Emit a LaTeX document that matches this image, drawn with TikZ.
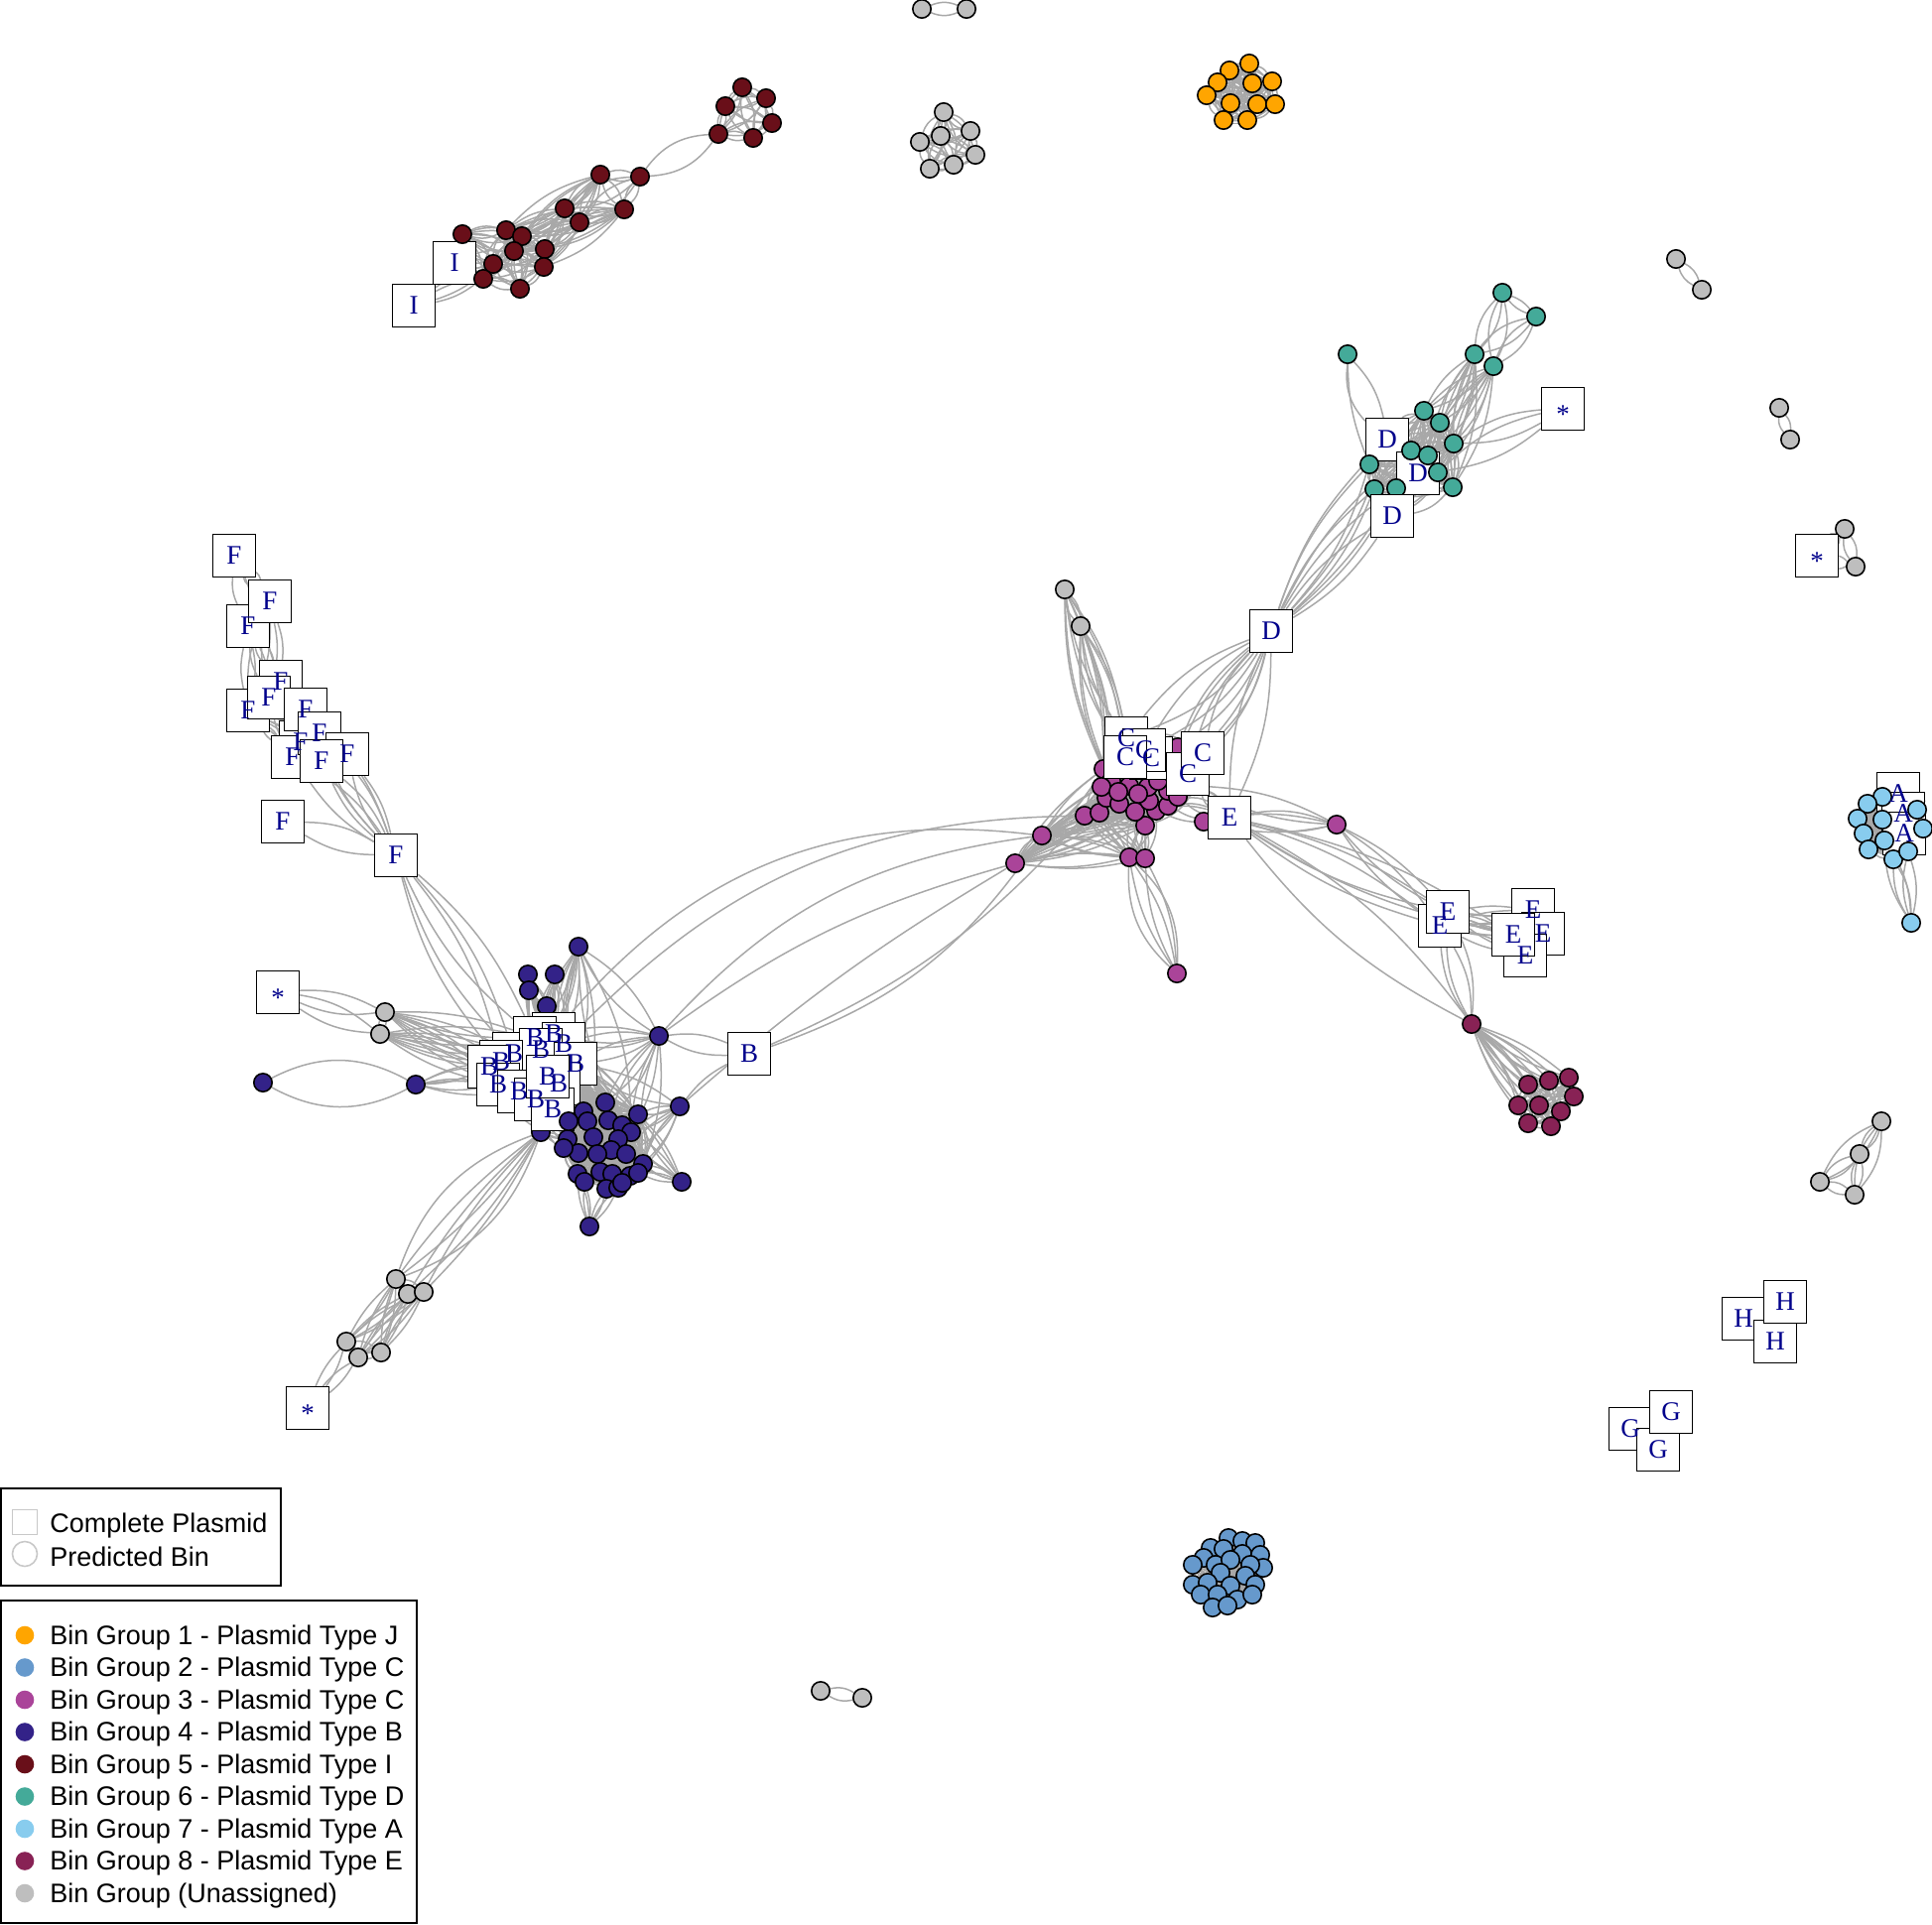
\documentclass[tikz,border=0pt]{standalone}
\usepackage{fontspec}
\setmainfont{Liberation Serif}
\newfontfamily\legfont{Liberation Sans}
\pgfdeclarelayer{edges}
\pgfsetlayers{edges,main}
\definecolor{cA}{RGB}{255,165,0}
\definecolor{cB}{RGB}{102,153,204}
\definecolor{cC}{RGB}{170,68,153}
\definecolor{cD}{RGB}{51,34,136}
\definecolor{cE}{RGB}{105,15,25}
\definecolor{cF}{RGB}{68,170,153}
\definecolor{cG}{RGB}{136,204,238}
\definecolor{cH}{RGB}{136,34,85}
\definecolor{cU}{RGB}{190,190,190}
\definecolor{edgec}{RGB}{168,168,168}
\definecolor{labc}{RGB}{0,0,139}
\newcommand\mkclique[2]{\foreach \a [count=\i] in {#1}{\foreach \b [count=\j] in {#1}{\ifnum\i<\j\relax \draw[ed] (\a) to[bend left=#2] (\b);\fi}}}
\newcommand\mkcliqueb[2]{\foreach \a [count=\i] in {#1}{\foreach \b [count=\j] in {#1}{\ifnum\i<\j\relax \draw[ed] (\a) to[bend left=#2] (\b); \draw[ed] (\a) to[bend right=#2] (\b);\fi}}}
\newcommand\mkfan[3]{\foreach \a in {#1}{\foreach \b in {#2}{\draw[ed] (\a) to[bend left=#3] (\b); \draw[ed] (\a) to[bend right=#3] (\b);}}}
\newcommand\mkbundle[3]{\foreach \k in {#3}{\draw[ed] (#1) to[bend left=\k] (#2);}}
\tikzset{
  bn/.style={circle, draw=black, line width=0.8pt, minimum size=9.2pt, inner sep=0pt},
  g1/.style={bn, fill=cA}, g2/.style={bn, fill=cB}, g3/.style={bn, fill=cC},
  g4/.style={bn, fill=cD}, g5/.style={bn, fill=cE}, g6/.style={bn, fill=cF},
  g7/.style={bn, fill=cG}, g8/.style={bn, fill=cH}, gu/.style={bn, fill=cU},
  sq/.style={draw=black, fill=white, line width=0.7pt, minimum size=21.5pt, inner sep=0pt},
  lab/.style={text=labc, font=\fontsize{13.5}{13.5}\selectfont, inner sep=0pt},
  ed/.style={draw=edgec, line width=0.75pt},
  legtxt/.style={anchor=west, inner sep=0pt, font=\legfont\fontsize{13.5}{16}\selectfont},
  legdot/.style={circle, minimum size=9.3pt, inner sep=0pt},
}
\begin{document}
\begin{tikzpicture}[x=0.5pt,y=-0.5pt]
\useasboundingbox (0,0) rectangle (1947,1939);
% ---------------- squares that lie under circles
\foreach \n/\x/\y in {I1/458/265, I2/417/308} \node[sq] (\n) at (\x,\y) {};
\foreach \n/\x/\y in {D1/1398/443, D2/1429/477} \node[sq] (\n) at (\x,\y) {};
\foreach \n/\x/\y in {A1/1913/800, A2/1918/820, A3/1919/840} \node[sq] (\n) at (\x,\y) {};
% ---------------- group 5 (maroon)
\foreach \n/\x/\y in {m1/748/88, m2/772/99, m3/731/107, m4/778/124, m5/724/135, m6/759/139,
  m7/605/176, m8/645/178, m9/629/211, m10/569/210, m11/584/224,
  m12/510/232, m13/466/236, m14/526/238, m15/518/253, m16/549/251, m17/497/266,
  m18/548/269, m19/487/281, m20/524/291}
  \node[g5] (\n) at (\x,\y) {};
% ---------------- group 1 (orange)
\foreach \n/\x/\y in {o1/1259/64, o2/1239/71, o3/1227/83, o4/1262/84, o5/1282/82, o6/1216/96,
  o7/1240/104, o8/1267/105, o9/1285/105, o10/1233/121, o11/1257/121}
  \node[g1] (\n) at (\x,\y) {};
% ---------------- unassigned grays
\foreach \n/\x/\y in {t1/929/9, t2/974/9, t3/951/113, t4/948/137, t5/978/132, t6/927/143,
  t7/983/156, t8/937/170, t9/961/166,
  r1/1689/261, r2/1715/292, r3/1793/411, r4/1804/443, r5/1859/533, r6/1870/571,
  r7/1896/1130, r8/1874/1163, r9/1834/1191, r10/1869/1204,
  y1/827/1704, y2/869/1711,
  u1/1073/594, u2/1089/631, u3/388/1020, u4/383/1042,
  u5/399/1289, u6/411/1304, u7/427/1302, u8/349/1352, u9/361/1368, u10/384/1363}
  \node[gu] (\n) at (\x,\y) {};
% ---------------- group 6 (green)
\foreach \n/\x/\y in {d1/1514/295, d2/1548/319, d3/1486/357, d4/1505/369, d5/1435/414,
  d6/1451/426, d7/1465/447, d8/1422/454, d9/1439/459, d10/1380/468, d11/1449/476,
  d12/1464/491, d13/1385/493, d14/1407/492, d15/1358/357}
  \node[g6] (\n) at (\x,\y) {};
\node[sq] (D3) at (1403,520) {};
\node[sq] (D4) at (1281,636) {};
\node[sq] (S3) at (1575,412) {};
% ---------------- group 7 (light blue)
\foreach \n/\x/\y in {a1/1897/803, a2/1882/810, a3/1872/825, a4/1897/826, a5/1932/816,
  a6/1938/835, a7/1878/840, a8/1899/847, a9/1883/856, a10/1908/866, a11/1923/858, a12/1926/930}
  \node[g7] (\n) at (\x,\y) {};
% ---------------- group 3 (purple)
\foreach \n/\x/\y in {p1/1112/775, p2/1187/753, p3/1206/792, p4/1213/828, p5/1093/822,
  p6/1108/819, p7/1050/842, p8/1023/870, p9/1138/864, p10/1154/865, p11/1186/981,
  p12/1154/832, p13/1115/804, p14/1128/810, p15/1144/818, p16/1165/817, p17/1177/812,
  p18/1177/797, p19/1158/807, p20/1138/792, p21/1120/787, p22/1110/793, p23/1157/793,
  p24/1167/787, p25/1127/798, p26/1147/800, p27/1187/803, p28/1182/780, p29/1347/831}
  \node[g3] (\n) at (\x,\y) {};
\foreach \n/\x/\y in {C1/1135/744, C3/1160/764, C2/1153/756, C6/1197/780, C4/1134/763,
  C5/1212/759, E1/1239/824}
  \node[sq] (\n) at (\x,\y) {};
% ---------------- group 8
\foreach \n/\x/\y in {h0/1483/1032, h1/1540/1093, h2/1561/1089, h3/1581/1086, h4/1586/1105,
  h5/1530/1114, h6/1551/1114, h7/1573/1120, h8/1540/1132, h9/1563/1135}
  \node[g8] (\n) at (\x,\y) {};
\foreach \n/\x/\y in {E2/1451/933, E3/1459/919, E4/1545/917, E5/1555/941, E7/1537/963, E6/1525/942}
  \node[sq] (\n) at (\x,\y) {};
% ---------------- group 2 (blue)
\foreach \n/\x [count=\k] in {1238/1550, 1252/1553, 1265/1555, 1220/1560, 1233/1561,
  1213/1570, 1252/1566, 1270/1567, 1202/1577, 1225/1577, 1240/1572, 1273/1580, 1260/1577,
  1230/1585, 1255/1588, 1202/1597, 1217/1595, 1240/1598, 1265/1597, 1210/1607, 1227/1607,
  1247/1612, 1262/1607, 1222/1620, 1237/1618}
  \node[g2] (v\k) at (\n,\x) {};
% ---------------- group 4 (indigo) outer
\foreach \n/\x/\y in {b1/265/1091, b2/419/1093, b3/583/954, b4/532/982, b5/559/982,
  b6/533/998, b7/551/1014, b8/664/1044, b9/685/1115, b10/687/1191, b11/594/1236,
  b12/545/1141}
  \node[g4] (\n) at (\x,\y) {};
\node[sq] (S1) at (280,1000) {};
\node[sq] (S2) at (310,1419) {};
\node[sq] (S4) at (1831,560) {};
\foreach \n/\x/\y in {B1/558/1042, B2/539/1046, B3/568/1052, B4/518/1062, B5/545/1058,
  B6/580/1072, B7/505/1070, B8/493/1075, B9/502/1093, B10/523/1100, B11/540/1108,
  B12/563/1092, B13/557/1118, B14/552/1085, B15/755/1062}
  \node[sq] (\n) at (\x,\y) {};
\foreach \n/\x/\y in {b13/610/1111, b14/643/1123, b15/588/1120, b16/592/1130, b17/613/1129,
  b18/627/1134, b19/636/1141, b20/572/1148, b21/598/1146, b22/623/1148, b23/583/1162,
  b24/616/1159, b25/631/1163, b26/602/1163, b27/648/1173, b28/582/1183, b29/589/1191,
  b30/605/1181, b31/617/1183, b32/635/1185, b33/643/1182, b34/611/1198, b35/623/1197,
  b36/627/1192, b37/573/1130, b38/568/1157}
  \node[g4] (\n) at (\x,\y) {};
% ---------------- F, H, G squares
\foreach \n/\x/\y in {F1/236/560, F3/250/631, F2/272/606, F4/283/687, F5/250/716, F6/271/703,
  F14/303/748, F8/295/763, F7/308/715, F9/322/739, F10/350/760, F11/324/767, F12/285/828,
  F13/399/862, H1/1757/1329, H3/1789/1352, H2/1799/1312, G1/1643/1440, G3/1671/1461, G2/1684/1423}
  \node[sq] (\n) at (\x,\y) {};
% ---------------- labels on top
\foreach \n/\t in {I1/I, I2/I, D1/D, D2/D, D3/D, D4/D, A1/A, A2/A, A3/A,
  C1/C, C3/C, C2/C, C6/C, C4/C, C5/C, E1/E, E2/E, E3/E, E4/E, E5/E, E7/E, E6/E,
  B1/B, B2/B, B3/B, B4/B, B5/B, B6/B, B7/B, B8/B, B9/B, B10/B, B11/B, B12/B, B13/B, B14/B, B15/B,
  F1/F, F3/F, F2/F, F4/F, F5/F, F6/F, F14/F, F8/F, F7/F, F9/F, F10/F, F11/F, F12/F, F13/F,
  H1/H, H3/H, H2/H, G1/G, G3/G, G2/G}
  \node[lab] (lab\n) at (\n) {\t};
\foreach \n in {S1,S2,S3,S4}
  \node[lab, yshift=-3pt] (lab\n) at (\n) {*};
% ---------------- edges
\begin{pgfonlayer}{edges}
% group 5
\mkcliqueb{m1,m2,m3,m4,m5,m6}{18}
\mkbundle{m5}{m8}{-25,25}
\mkcliqueb{m7,m8,m9,m10,m11}{20}
\mkfan{m10,m11,m7,m9}{m12,m14,m16,m18,m15}{15}
\mkcliqueb{m12,m13,m14,m15,m16,m17,m18,m19,m20}{20}
\mkfan{I1}{m13,m17,m19,m15}{12}
\mkfan{I2}{m19,m17}{12}
% group 1
\mkcliqueb{o1,o2,o3,o4,o5,o6,o7,o8,o9,o10,o11}{20}
% grays
\mkbundle{t1}{t2}{-22,22}
\mkcliqueb{t3,t4,t5,t6,t7,t8,t9}{20}
\mkbundle{r1}{r2}{-22,22}
\mkbundle{r3}{r4}{-22,22}
\mkfan{S4}{r5,r6}{15}
\mkbundle{r5}{r6}{-22,22}
\mkcliqueb{r7,r8,r9,r10}{20}
\mkbundle{y1}{y2}{-22,22}
% group 2
\mkclique{v1,v2,v3,v4,v5,v6,v7,v8,v9,v10,v11,v12,v13,v14,v15,v16,v17,v18,v19,v20,v21,v22,v23,v24,v25}{15}
% group 7
\mkcliqueb{a1,a2,a3,a4,a5,a6,a7,a8,a9,a10,a11,A1,A2,A3}{15}
\mkfan{a12}{a10,a11,a8}{15}
% group 6
\mkfan{d1,d2}{d3,d4}{20}
\mkcliqueb{d1,d2}{15}
\mkfan{d3,d4}{d5,d6,d7,d9,d11,d12}{14}
\mkcliqueb{d5,d6,d7,d8,d9,d10,d11,d12,d13,d14,D1,D2,D3}{18}
\mkbundle{d15}{D1}{-25,15}
\mkbundle{d15}{d10}{-10}
\mkfan{S3}{d7,d11}{15}
\mkfan{D4}{d10,d13,d14,D3,d8,D1}{12}
% D4 to purple and E
\mkfan{D4}{C1,C2,C5,p2,p28,C6}{15}
\mkbundle{D4}{E1}{-12,12}
\mkfan{u1,u2}{C1,C4,p1,p21}{12}
\mkbundle{u1}{u2}{-20,20}
% purple
\mkclique{p1,p3,p12,p13,p14,p15,p16,p17,p18,p19,p20,p21,p22,p23,p24,p25,p26,p27,p28,p2,C1,C2,C3,C4,C5,C6}{20}
\mkfan{p7,p8,p5,p6}{p1,p13,p14,p20,p22,p25,p9,p10,p12,p15,p19,p16}{10}
\mkbundle{p7}{p8}{-20,20}
\mkfan{p9,p10}{p11}{12}
\mkbundle{p9}{p11}{-25,25}
\mkfan{p9,p10}{p12,p15,p16}{15}
\mkfan{E1}{p3,p4,p17,p27,p16}{15}
\mkbundle{E1}{p29}{-15,15}
\mkfan{p29}{p4,p3}{12}
\mkfan{E1}{E2,E3,E6}{10}
\mkfan{p29}{E2,E3}{10}
\mkfan{E2,E3}{E4,E6,E5,E7}{8}
\mkbundle{E1}{h0}{-12,12}
\mkfan{E2,E3}{h0}{15}
% group 8
\mkfan{h0}{h1,h2,h3,h4,h5,h6,h7,h8,h9}{10}
\mkcliqueb{h1,h2,h3,h4,h5,h6,h7,h8,h9}{18}
% group 4 / B
\mkfan{S1}{u3,u4}{15}
\mkfan{u3,u4}{B7,B8,B9,B4,B2}{10}
\mkbundle{u3}{u4}{-20,20}
\mkbundle{b1}{b2}{-28,28}
\mkfan{b2}{B7,B8,B9,B10}{10}
\mkfan{b3,b4,b5,b6,b7}{B1,B3,B5,B2}{10}
\mkfan{b3}{b8,b15,b19,B6}{15}
\mkcliqueb{B1,B2,B3,B4,B5,B6,B7,B8,B9,B10,B11,B12,B13,B14}{15}
\mkfan{B1,B3,B6,B12,B13,B14,B11,B10}{b13,b15,b17,b19,b21,b24,b27,b31,b34,b14}{10}
\mkclique{b13,b14,b15,b16,b17,b18,b19,b20,b21,b22,b23,b24,b25,b26,b27,b28,b29,b30,b31,b32,b33,b34,b35,b36,b37,b38}{20}
\mkfan{b8}{B1,B6,B3,b17,b19,b27,b13}{12}
\mkfan{b9,b10}{b19,b27,b33,b14,b25,B6}{12}
\mkfan{b11}{b29,b34,b28,b35}{10}
\mkfan{b12}{u5,u6,u7}{8}
\mkbundle{b12}{u5}{-25,25}
\mkcliqueb{u5,u6,u7}{20}
\mkfan{u5,u6,u7}{u8,u9,u10}{10}
\mkcliqueb{u8,u9,u10}{20}
\mkfan{S2}{u8,u9}{10}
\mkfan{b12}{B11,B13,B9,b20,b23}{10}
% F
\mkfan{F1}{F3,F2}{15}
\mkfan{F2,F3}{F4,F6,F5}{12}
\mkfan{F4,F5,F6,F7,F14}{F8,F9,F10,F11}{8}
\mkfan{F8,F9,F10,F11,F7}{F13}{12}
\mkbundle{F12}{F13}{-15,15}
\mkfan{F13}{B4,B7,B2}{12}
% long curves between B and purple
\draw[ed] (b8) to[bend left=20] (p7);
\draw[ed] (b8) to[bend left=10] (p8);
\draw[ed] (b9) to[bend left=5] (p8);
\draw[ed] (B1) to[bend left=28] (p7);
\draw[ed] (B3) to[bend left=22] (p5);
\draw[ed] (B15) to[bend right=12] (p5);
\draw[ed] (B15) to[bend right=18] (p7);
\mkbundle{b8}{B15}{-15,15}
\draw[ed] (b9) to[bend left=12] (B15);
\end{pgfonlayer}
% ---------------- legends
\draw[line width=0.6pt] (1,1500) rectangle (283,1598);
\node[draw={rgb,255:red,200;green,200;blue,200}, line width=0.8pt, minimum size=12.5pt, inner sep=0pt] (licsq) at (25,1534) {};
\node[circle, draw={rgb,255:red,200;green,200;blue,200}, line width=0.8pt, minimum size=12.5pt, inner sep=0pt] (liccir) at (25,1566) {};
\node[legtxt] (ltsq) at (50,1537) {Complete Plasmid};
\node[legtxt] (ltcir) at (50,1569) {Predicted Bin};
\draw[line width=0.6pt] (1,1613) rectangle (420,1938);
\foreach \c/\t [count=\k] in {cA/Bin Group 1 - Plasmid Type J, cB/Bin Group 2 - Plasmid Type C,
  cC/Bin Group 3 - Plasmid Type C, cD/Bin Group 4 - Plasmid Type B, cE/Bin Group 5 - Plasmid Type I,
  cF/Bin Group 6 - Plasmid Type D, cG/Bin Group 7 - Plasmid Type A, cH/Bin Group 8 - Plasmid Type E,
  cU/Bin Group (Unassigned)} {
  \node[legdot, fill=\c] (ld\k) at (25,{1648+32.5*(\k-1)}) {};
  \node[legtxt] (lt\k) at (50,{1650+32.5*(\k-1)}) {\t};
}
\end{tikzpicture}
\end{document}
